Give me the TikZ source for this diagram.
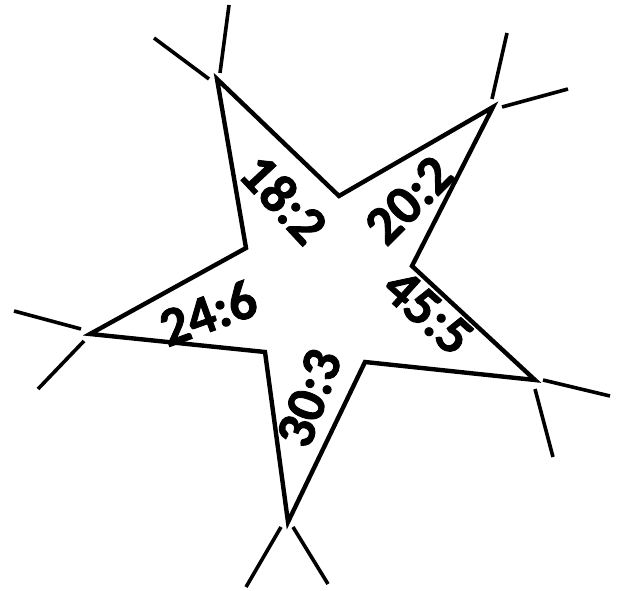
\documentclass[tikz,border=0pt]{standalone}
\usepackage{fontspec}
\setmainfont{Carlito}[BoldFont={* Bold}, BoldFeatures={FakeBold=1.6}]
\usepackage{tikz}
\usetikzlibrary{calc}

\begin{document}
\begin{tikzpicture}[x=1pt,y=-1pt,
  starline/.style={line width=4.4pt, line join=miter},
  tipline/.style={line width=3.6pt},
  ratiolabel/.style={font=\fontsize{55}{55}\selectfont\bfseries, inner sep=0pt}]
\useasboundingbox (0,0) rectangle (619,591);

% star corners
\coordinate (t1) at (217,79);
\coordinate (i1) at (339,196);
\coordinate (t2) at (493,107);
\coordinate (i2) at (412,266);
\coordinate (t3) at (535,380);
\coordinate (i3) at (365,362);
\coordinate (t4) at (288,522);
\coordinate (i4) at (265,352);
\coordinate (t5) at (90,334);
\coordinate (i5) at (246,248);

\draw[starline] (t1) -- (i1) -- (t2) -- (i2) -- (t3) -- (i3) -- (t4) -- (i4) -- (t5) -- (i5) -- cycle;

% strokes at the tips
\draw[tipline] (209,79) -- (154,38);
\draw[tipline] (220,73) -- (229,5);
\draw[tipline] (492,99) -- (507,33);
\draw[tipline] (502,107) -- (568,89);
\draw[tipline] (543,380) -- (610,396);
\draw[tipline] (535,389) -- (553,457);
\draw[tipline] (281,527) -- (246,587);
\draw[tipline] (293,527) -- (328,584);
\draw[tipline] (81,329) -- (14,311);
\draw[tipline] (84,341) -- (38,389);

% ratios
\node[ratiolabel, rotate=-47] (r182) at (284,199) {18:2};
\node[ratiolabel, rotate=45] (r202) at (409,200) {20:2};
\node[ratiolabel, rotate=20] (r246) at (208,313) {24:6};
\node[ratiolabel, rotate=-42] (r455) at (428,312) {45:5};
\node[ratiolabel, rotate=70] (r303) at (309,398) {30:3};
\end{tikzpicture}
\end{document}
